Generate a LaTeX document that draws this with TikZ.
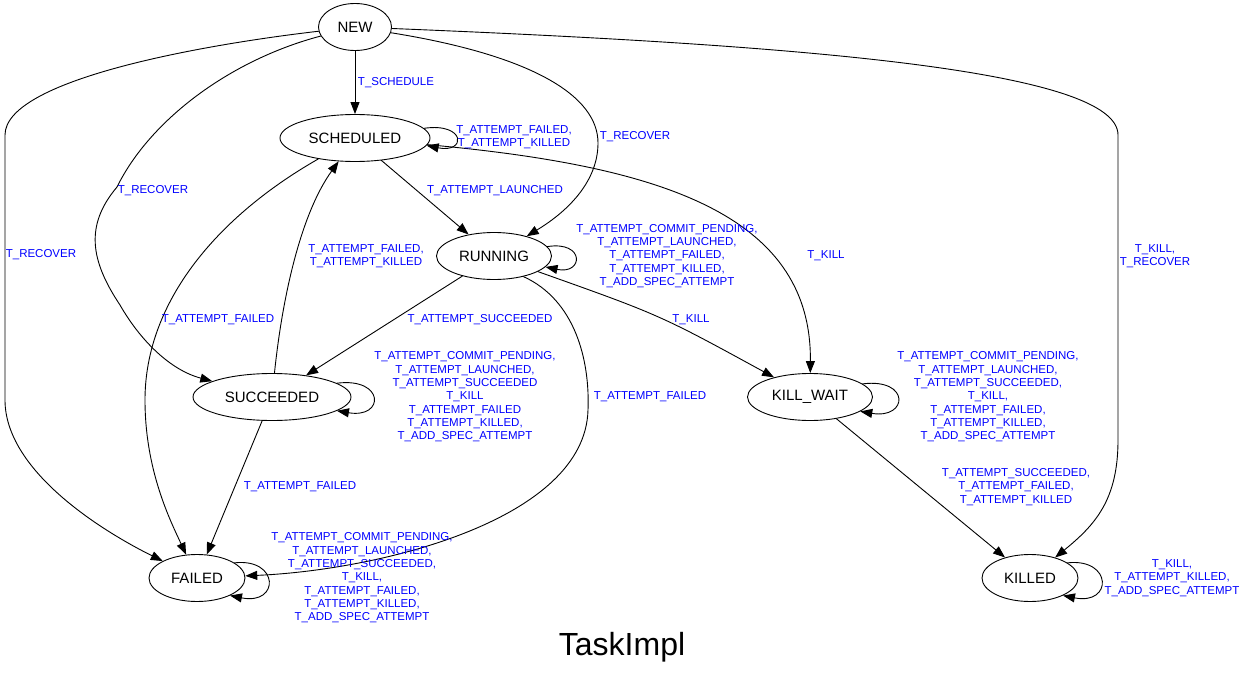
\documentclass[tikz,border=0pt]{standalone}
\usepackage{fontspec}
\setmainfont{Liberation Sans}
\usetikzlibrary{arrows.meta,shapes.geometric}
\begin{document}
\begin{tikzpicture}[x=1pt, y=-1pt, line join=round, line cap=round, >={Triangle[length=12pt,width=9pt]},
  state/.style={draw, ellipse, line width=0.9pt, minimum height=47, inner sep=0, font=\fontsize{15}{15}\selectfont},
  edge/.style={->, line width=0.9pt},
  lbl/.style={text=blue, inner sep=0, align=center, font=\fontsize{11.5}{13.3}\selectfont}]
\useasboundingbox (0,0) rectangle (1248,677);
% Các trạng thái
\node[state, minimum width=73] (new) at (355,27) {NEW};
\node[state, minimum width=150] (sched) at (355,138) {SCHEDULED};
\node[state, minimum width=115] (run) at (494,256) {RUNNING};
\node[state, minimum width=158] (succ) at (272,397) {SUCCEEDED};
\node[state, minimum width=125] (kwait) at (810,397) {KILL\_WAIT};
\node[state, minimum width=96] (failed) at (197,578) {FAILED};
\node[state, minimum width=96] (killed) at (1030,578) {KILLED};
% Tên máy trạng thái
\node[font=\fontsize{32}{32}\selectfont] (title) at (622,647) {TaskImpl};
% Các cạnh đi từ NEW
\draw[edge] (new) -- (sched);
\draw[edge] (new) .. controls (530,55) and (598,95) .. (598,143) .. controls (598,180) and (570,210) .. (run);
\draw[edge] (new) .. controls (230,60) and (150,120) .. (117,187) .. controls (85,225) and (90,260) .. (120,305) .. controls (140,340) and (170,370) .. (succ);
\draw[edge] (new) .. controls (200,45) and (5,80) .. (5,135) -- (5,400) .. controls (5,470) and (100,530) .. (failed);
\draw[edge] (new) .. controls (800,45) and (1118,70) .. (1118,135) -- (1118,440) .. controls (1118,500) and (1095,525) .. (killed);
% Các cạnh đi từ SCHEDULED
\draw[edge] (sched.8) .. controls +(42,-6) and +(40,8) .. (sched.-6);
\draw[edge] (sched) -- (run);
\draw[edge] (sched) .. controls (650,165) and (812,210) .. (kwait);
\draw[edge] (sched) .. controls (220,215) and (145,300) .. (145,400) .. controls (145,470) and (170,520) .. (failed);
% Các cạnh đi từ RUNNING
\draw[edge] (run.10) .. controls +(38,-6) and +(38,8) .. (run.-12);
\draw[edge] (run) -- (succ);
\draw[edge] (run) .. controls (660,315) .. (kwait);
\draw[edge] (run.-35) .. controls (575,300) and (590,360) .. (588,410) .. controls (585,520) and (380,570) .. (failed);
% Các cạnh đi từ SUCCEEDED, KILL_WAIT
\draw[edge] (succ.12) .. controls +(48,-6) and +(48,8) .. (succ.-12);
\draw[edge] (succ) .. controls (282,300) and (300,215) .. (sched.235);
\draw[edge] (succ) -- (failed);
\draw[edge] (kwait.14) .. controls +(48,-6) and +(48,8) .. (kwait.-16);
\draw[edge] (kwait) -- (killed);
% Vòng lặp ở FAILED và KILLED
\draw[edge] (failed.22) .. controls +(45,-5) and +(50,10) .. (failed.-28);
\draw[edge] (killed.22) .. controls +(45,-5) and +(50,10) .. (killed.-28);
% Ghi nhãn các cạnh
\node[lbl] (lschedule) at (396,83) {T\_SCHEDULE};
\node[lbl] (lschedloop) at (514,137) {T\_ATTEMPT\_FAILED,\\T\_ATTEMPT\_KILLED};
\node[lbl] (llaunched) at (495,191) {T\_ATTEMPT\_LAUNCHED};
\node[lbl] (lrecrun) at (635,137) {T\_RECOVER};
\node[lbl] (lrecsucc) at (153,191) {T\_RECOVER};
\node[lbl] (lrecfailed) at (41,255) {T\_RECOVER};
\node[lbl] (lreckilled) at (1155,256) {T\_KILL,\\T\_RECOVER};
\node[lbl] (lschedkill) at (826,256) {T\_KILL};
\node[lbl] (lschedfail) at (218,320) {T\_ATTEMPT\_FAILED};
\node[lbl] (lsuccsched) at (366,256) {T\_ATTEMPT\_FAILED,\\T\_ATTEMPT\_KILLED};
\node[lbl] (lrunloop) at (667,256) {T\_ATTEMPT\_COMMIT\_PENDING,\\T\_ATTEMPT\_LAUNCHED,\\T\_ATTEMPT\_FAILED,\\T\_ATTEMPT\_KILLED,\\T\_ADD\_SPEC\_ATTEMPT};
\node[lbl] (lrunsucc) at (480,320) {T\_ATTEMPT\_SUCCEEDED};
\node[lbl] (lrunkill) at (691,320) {T\_KILL};
\node[lbl] (lrunfail) at (650,397) {T\_ATTEMPT\_FAILED};
\node[lbl] (lsuccloop) at (465,397) {T\_ATTEMPT\_COMMIT\_PENDING,\\T\_ATTEMPT\_LAUNCHED,\\T\_ATTEMPT\_SUCCEEDED\\T\_KILL\\T\_ATTEMPT\_FAILED\\T\_ATTEMPT\_KILLED,\\T\_ADD\_SPEC\_ATTEMPT};
\node[lbl] (lsuccfail) at (300,487) {T\_ATTEMPT\_FAILED};
\node[lbl] (lfailloop) at (362,578) {T\_ATTEMPT\_COMMIT\_PENDING,\\T\_ATTEMPT\_LAUNCHED,\\T\_ATTEMPT\_SUCCEEDED,\\T\_KILL,\\T\_ATTEMPT\_FAILED,\\T\_ATTEMPT\_KILLED,\\T\_ADD\_SPEC\_ATTEMPT};
\node[lbl] (lkwloop) at (988,397) {T\_ATTEMPT\_COMMIT\_PENDING,\\T\_ATTEMPT\_LAUNCHED,\\T\_ATTEMPT\_SUCCEEDED,\\T\_KILL,\\T\_ATTEMPT\_FAILED,\\T\_ATTEMPT\_KILLED,\\T\_ADD\_SPEC\_ATTEMPT};
\node[lbl] (lkwkilled) at (1016,487) {T\_ATTEMPT\_SUCCEEDED,\\T\_ATTEMPT\_FAILED,\\T\_ATTEMPT\_KILLED};
\node[lbl] (lkilledloop) at (1172,578) {T\_KILL,\\T\_ATTEMPT\_KILLED,\\T\_ADD\_SPEC\_ATTEMPT};
\end{tikzpicture}
\end{document}
